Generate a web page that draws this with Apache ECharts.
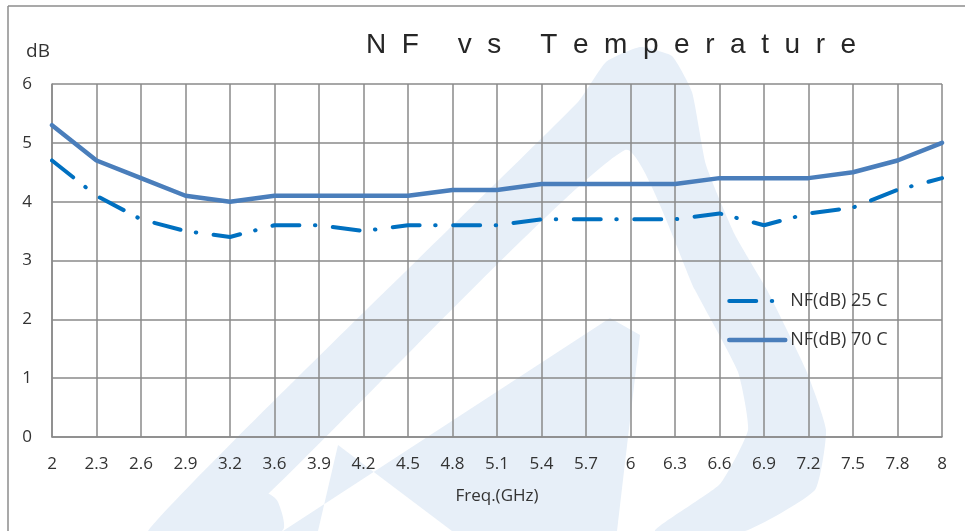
<!DOCTYPE html>
<html>
<head>
<meta charset="utf-8">
<script src="https://cdn.jsdelivr.net/npm/echarts@6/dist/echarts.min.js"></script>
<style>
html,body{margin:0;padding:0;background:#fff;}
#c{width:965px;height:531px;}
</style>
</head>
<body>
<div id="c"></div>
<script>
const freqLabels = ['2','2.3','2.6','2.9','3.2','3.6','3.9','4.2','4.5','4.8','5.1','5.4','5.7','6','6.3','6.6','6.9','7.2','7.5','7.8','8'];
const nf25 = [4.7,4.1,3.7,3.5,3.4,3.6,3.6,3.5,3.6,3.6,3.6,3.7,3.7,3.7,3.7,3.8,3.6,3.8,3.9,4.2,4.4];
const nf70 = [5.3,4.7,4.4,4.1,4.0,4.1,4.1,4.1,4.1,4.2,4.2,4.3,4.3,4.3,4.3,4.4,4.4,4.4,4.5,4.7,5.0];
const seriesNames = ['NF(dB) 25 C','NF(dB) 70 C'];
const titleText = 'N  F     v  s     T  e  m  p  e  r  a  t  u  r  e';

const FONT = '"Open Sans", "Noto Sans", sans-serif';
const chart = echarts.init(document.getElementById('c'));
const wmColor = '#e7eff8';
chart.setOption({
  animation: false,
  backgroundColor: '#fff',
  title: {
    text: titleText,
    left: 366, top: 31, padding: 0,
    textStyle: {fontFamily: '"Liberation Sans", Arial, sans-serif', fontSize: 28, fontWeight: 'normal', color: '#262626'}
  },
  graphic: [
    {type: 'polygon', z: -100, silent: true,
     shape: {smooth: 0.15, points: [[148,531],[228,531],[625,150],[695,290],[738,372],[748,430],[720,484],[655,531],[745,531],[815,490],[826,430],[806,370],[767,290],[735,235],[706,165],[692,92],[672,56],[640,47],[606,62],[578,102]]},
     style: {fill: wmColor}},
    {type: 'polygon', z: -100, silent: true,
     shape: {points: [[283,531],[318,531],[338,445],[452,531],[617,531],[640,335],[610,318]]},
     style: {fill: wmColor}},
    {type: 'polygon', z: -100, silent: true,
     shape: {smooth: 0.3, points: [[224,531],[252,500],[266,493],[278,502],[282,531]]},
     style: {fill: wmColor}},
    {type: 'line', z: 10, silent: true, shape: {x1: 8, y1: 6, x2: 8, y2: 531}, style: {stroke: '#8c8c8c', lineWidth: 1.5}},
    {type: 'line', z: 10, silent: true, shape: {x1: 8, y1: 6, x2: 965, y2: 6}, style: {stroke: '#8c8c8c', lineWidth: 1.5}}
  ],
  legend: {
    orient: 'vertical',
    left: 722, top: 287,
    itemWidth: 56, itemHeight: 14, itemGap: 21,
    itemStyle: {color: 'rgba(0,0,0,0)', borderWidth: 0, opacity: 0},
    lineStyle: {width: 'inherit', type: 'inherit', cap: 'round'},
    textStyle: {fontFamily: FONT, fontSize: 18, color: '#333'},
    data: seriesNames
  },
  grid: {left: 52, right: 23, top: 84, bottom: 94, containLabel: false},
  xAxis: {
    type: 'category',
    data: freqLabels,
    boundaryGap: false,
    name: 'Freq.(GHz)',
    nameLocation: 'middle',
    nameGap: 59,
    nameTextStyle: {fontFamily: FONT, fontSize: 17, color: '#333', verticalAlign: 'middle'},
    axisLine: {show: true, lineStyle: {color: '#8a8a8a', width: 1.5}},
    axisTick: {show: false},
    axisLabel: {fontFamily: FONT, fontSize: 17, color: '#333', margin: 19, interval: 0},
    splitLine: {show: true, lineStyle: {color: '#8a8a8a', width: 1.5}}
  },
  yAxis: {
    type: 'value',
    min: 0, max: 6, interval: 1,
    name: 'dB',
    nameLocation: 'end',
    nameGap: 32,
    nameTextStyle: {fontFamily: FONT, fontSize: 19, color: '#333', align: 'right', verticalAlign: 'middle', padding: [0, 2, 0, 0]},
    axisLine: {show: true, lineStyle: {color: '#8a8a8a', width: 1.5}},
    axisTick: {show: false},
    axisLabel: {fontFamily: FONT, fontSize: 17, color: '#333', margin: 20},
    splitLine: {show: true, lineStyle: {color: '#8a8a8a', width: 1.5}}
  },
  series: [
    {
      name: seriesNames[0], type: 'line', data: nf25,
      symbol: 'none', z: 3,
      lineStyle: {color: '#0070c0', width: 4, type: [27, 15.5, 0.5, 17.5], cap: 'round'},
      itemStyle: {color: '#0070c0'}
    },
    {
      name: seriesNames[1], type: 'line', data: nf70,
      symbol: 'none', z: 4,
      lineStyle: {color: '#4a7ebb', width: 4.5, cap: 'round'},
      itemStyle: {color: '#4a7ebb'}
    }
  ]
});
</script>
</body>
</html>
